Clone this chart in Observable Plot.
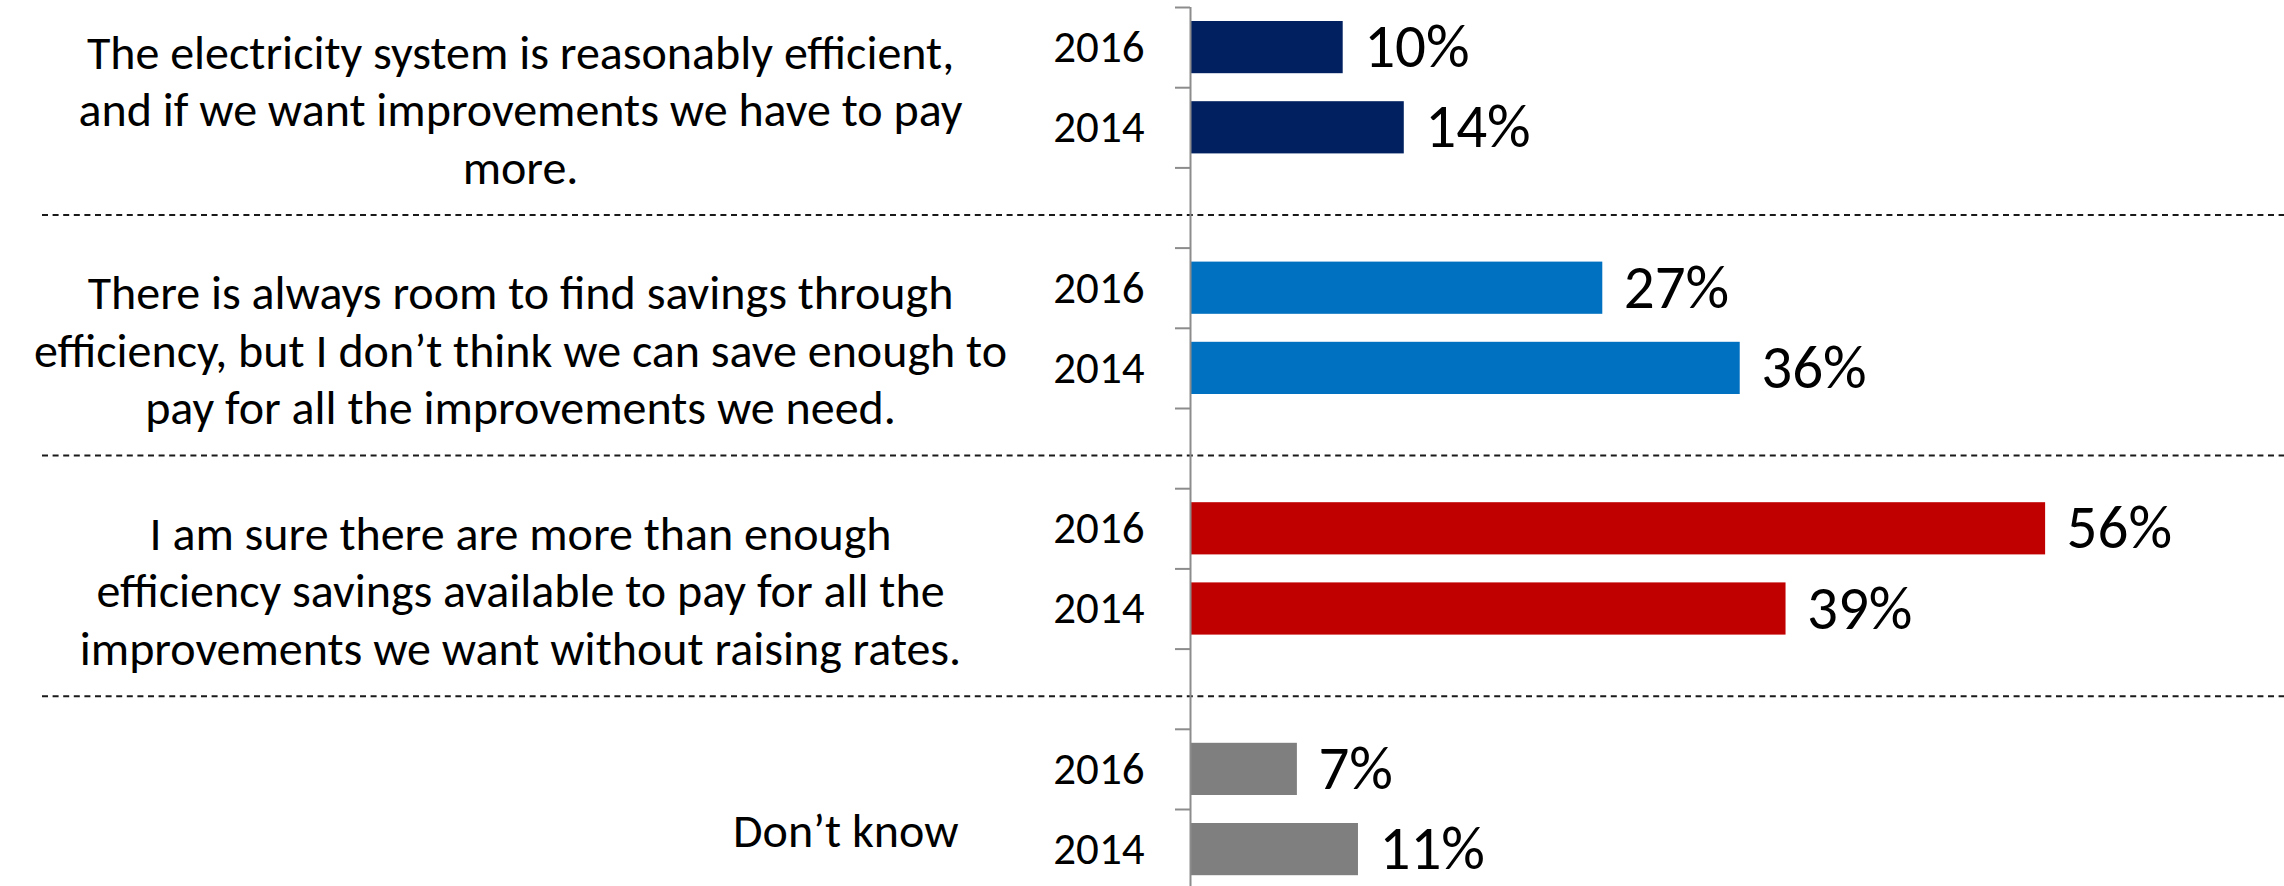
<!DOCTYPE html>
<html>
<head>
<meta charset="utf-8">
<script src="https://cdn.jsdelivr.net/npm/d3@7"></script>
<script src="https://cdn.jsdelivr.net/npm/@observablehq/plot@0.6"></script>
<style>
  html, body { margin: 0; padding: 0; background: #fff; overflow: hidden; }
  #chart svg { display: block; }
</style>
</head>
<body>
<div id="chart"></div>
<script>
// ---- data ----
const categories = [
  "The electricity system is reasonably efficient, and if we want improvements we have to pay more.",
  "There is always room to find savings through efficiency, but I don’t think we can save enough to pay for all the improvements we need.",
  "I am sure there are more than enough efficiency savings available to pay for all the improvements we want without raising rates.",
  "Don’t know"
];
const categoryLines = [
  ["The electricity system is reasonably efficient,", "and if we want improvements we have to pay", "more."],
  ["There is always room to find savings through", "efficiency, but I don’t think we can save enough to", "pay for all the improvements we need."],
  ["I am sure there are more than enough", "efficiency savings available to pay for all the", "improvements we want without raising rates."],
  ["Don’t know"]
];
const years = ["2016", "2014"];
const values2016 = [10, 27, 56, 7];
const values2014 = [14, 36, 39, 11];
const palette = ["#002060", "#0070C0", "#C00000", "#7F7F7F"];

// ---- derived tables ----
const seriesByYear = [values2016, values2014];
const rowKeys = categories.flatMap((c, i) => [...years.map(y => `${i}|${y}`), `${i}|gap`]);
const bars = categories.flatMap((c, i) =>
  years.map((yr, j) => ({category: c, year: yr, row: `${i}|${yr}`, value: seriesByYear[j][i]}))
);
const labels = categories.map((c, i) => ({
  category: c, row: `${i}|${years[1]}`, text: categoryLines[i].join("\n"), multi: categoryLines[i].length > 1
}));
const gapRows = rowKeys.filter(k => k.endsWith("|gap")).slice(0, categories.length - 1);

// ---- layout ----
const W = 2284, H = 886;
const axisX = 1190, pxPerPct = 15.27;
const rowTop = 7, rowStep = 80.2;
const labelFont = 48;

const chart = Plot.plot({
  width: W,
  height: H,
  marginLeft: 42,
  marginRight: 0,
  marginTop: rowTop,
  marginBottom: 0,
  style: {fontFamily: "Calibri, Carlito, Lato, sans-serif", background: "#fff", color: "#000"},
  x: {domain: [0, 100], range: [axisX, axisX + pxPerPct * 100], axis: null},
  y: {domain: rowKeys, range: [rowTop, rowTop + rowStep * rowKeys.length], padding: 0, round: false, axis: null},
  color: {domain: categories, range: palette},
  marks: [
    // dashed separators between groups
    Plot.ruleY(gapRows, {y: d => d, dy: 7, stroke: "#1a1a1a", strokeWidth: 2, strokeDasharray: "6,4.6"}),
    // bars
    Plot.barX(bars, {x: "value", y: "row", fill: "category", insetTop: 14, insetBottom: 14}),
    // category axis line
    Plot.ruleX([0], {stroke: "#8c8c8c", strokeWidth: 2}),
    // boundary tick marks (Excel style, between categories)
    Plot.ruleY(rowKeys, {y: d => d, x1: 0, x2: 0, insetLeft: -15, dy: -rowStep / 2, stroke: "#8c8c8c", strokeWidth: 2}),
    // year labels
    Plot.text(bars, {x: 0, y: "row", text: "year", textAnchor: "end", dx: -46, fontSize: 45, fill: "#000"}),
    // value labels
    Plot.text(bars, {x: "value", y: "row", text: d => `${d.value}%`, textAnchor: "start", dx: 21, fontSize: 61, fill: "#000"}),
    // wrapped category labels (centred block)
    Plot.text(labels.filter(d => d.multi), {x: 0, y: "row", text: "text", textAnchor: "middle", lineAnchor: "middle", lineHeight: 1.2, dx: -670, dy: -20, fontSize: labelFont, fill: "#000"}),
    // single-line category label (right aligned to the label box)
    Plot.text(labels.filter(d => !d.multi), {x: 0, y: "row", text: "text", textAnchor: "end", lineAnchor: "middle", dx: -232, dy: -18, fontSize: labelFont, fill: "#000"})
  ]
});
document.getElementById("chart").appendChild(chart);
</script>
</body>
</html>
